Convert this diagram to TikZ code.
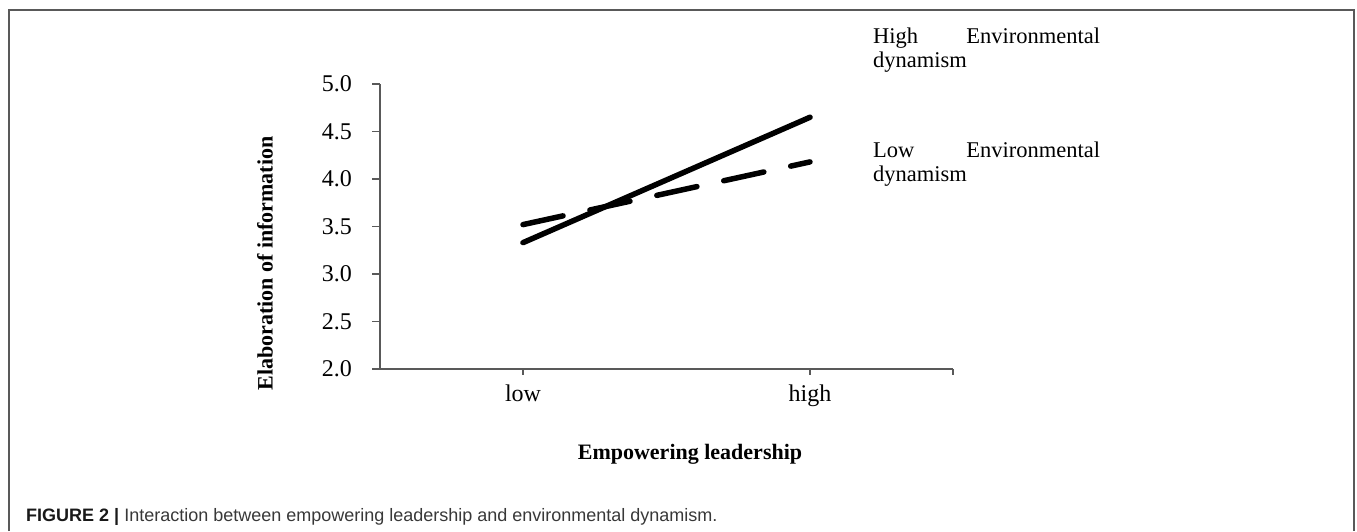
\documentclass[tikz,border=0pt]{standalone}
\usepackage{fontspec}
\setmainfont{Liberation Serif}
\newfontfamily\capfont{Liberation Sans}
\begin{document}
\begin{tikzpicture}[x=1pt,y=-1pt,
  frameline/.style={draw=black!65,line width=1.5pt},
  axisline/.style={draw=black!65,line width=1.3pt},
  ticklbl/.style={inner sep=0pt,font=\fontsize{24}{28}\selectfont},
  axistitle/.style={inner sep=0pt,font=\fontsize{22}{26}\selectfont\bfseries},
  legendtxt/.style={inner sep=0pt,text width=227pt,align=left,font=\fontsize{22.5}{24.5}\selectfont},
  highline/.style={line width=5.5pt,line cap=round,black},
  lowline/.style={line width=5.5pt,line cap=round,black,dash pattern=on 41pt off 27.5pt}]
\useasboundingbox (0,0) rectangle (1357,531);
% frame (open at bottom)
\draw[frameline] (9,531) -- (9,10) -- (1354,10) -- (1354,531);
% axes
\coordinate (org) at (380,369);
\coordinate (ytop) at (380,84);
\coordinate (xend) at (953,369);
\draw[axisline] (ytop) -- (org) -- (xend);
% y ticks and labels
\foreach \v/\lab [count=\i] in {2.0/2.0,2.5/2.5,3.0/3.0,3.5/3.5,4.0/4.0,4.5/4.5,5.0/5.0}{
  \coordinate (yt\i) at (380,{369-(\v-2)*95});
  \draw[axisline] (yt\i) -- ++(-8,0);
  \node[ticklbl,anchor=east] (ylab\i) at ([xshift=-28pt]yt\i) {\lab};
}
% x ticks
\coordinate (xlow) at (523,369);
\coordinate (xhigh) at (810,369);
\draw[axisline] (xlow) -- ++(0,6);
\draw[axisline] (xhigh) -- ++(0,6);
\draw[axisline] (xend) -- ++(0,6);
\node[ticklbl,anchor=base] (lowlab) at (523,401) {low};
\node[ticklbl,anchor=base] (highlab) at (810,401) {high};
% axis titles
\node[axistitle,rotate=90] (ytitle) at (265,263.5) {Elaboration of information};
\node[axistitle] (xtitle) at (690,454) {Empowering leadership};
% data lines
\coordinate (h1) at (523,{369-(3.33-2)*95});
\coordinate (h2) at (810,{369-(4.65-2)*95});
\coordinate (l1) at (523,{369-(3.52-2)*95});
\coordinate (l2) at (810,{369-(4.18-2)*95});
\draw[highline] (h1) -- (h2);
\draw[lowline] (l1) -- (l2);
% legend
\node[legendtxt,anchor=base west] (leghigh) at (873,43) {High\hfill Environmental\\dynamism};
\node[legendtxt,anchor=base west] (leglow) at (873,157) {Low\hfill Environmental\\dynamism};
% caption
\node[inner sep=0pt,anchor=base west,font=\capfont\fontsize{18}{22}\selectfont] (caption) at (26,521)
  {\textcolor{black!90}{\bfseries FIGURE 2 |} \textcolor{black!78}{Interaction between empowering leadership and environmental dynamism.}};
\end{tikzpicture}
\end{document}
